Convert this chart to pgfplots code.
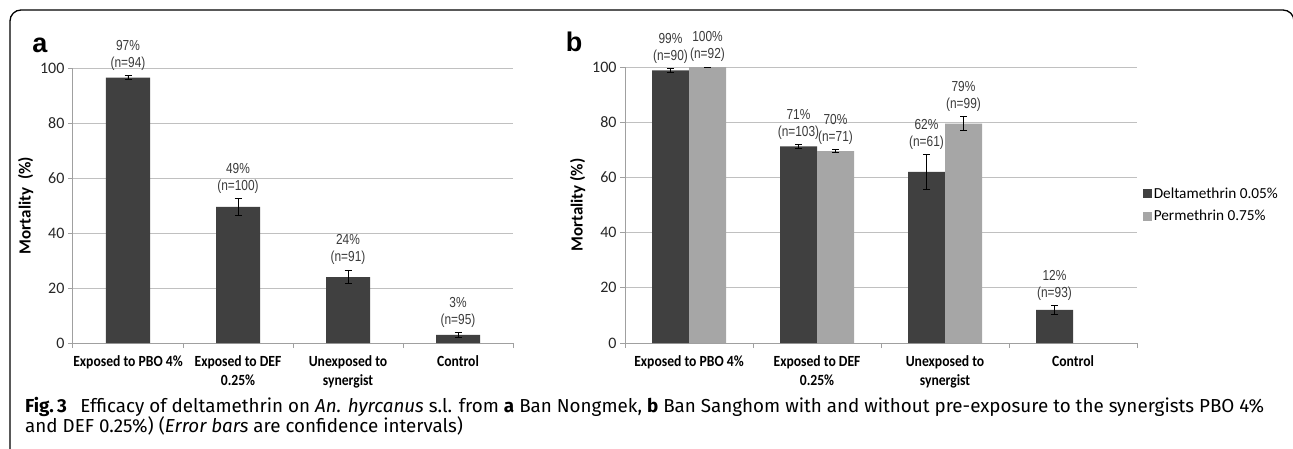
\documentclass[border=0pt]{standalone}
\usepackage{pgfplots}
\pgfplotsset{compat=1.18}
\usepackage{pgfplotstable}
\usepackage{fontspec}
\setmainfont{Carlito}
\newfontfamily\catfont[FakeStretch=0.88]{Carlito}
\newfontfamily\narrowfont[FakeStretch=0.82]{Liberation Sans}
\newfontfamily\letterfont{Liberation Sans}
\newfontfamily\capfont{Fira Sans}
\definecolor{darkbar}{HTML}{404040}
\definecolor{lightbar}{HTML}{A6A6A6}
\definecolor{gridc}{HTML}{C0C0C0}
\definecolor{axc}{HTML}{A0A0A0}
\definecolor{labc}{HTML}{3A3A3A}

\pgfplotstableread{
x y e p n
0 96.5 0.8 97 94
1 49.5 3.0 49 100
2 24.0 2.5 24 91
3 3.0 0.8 3 95
}\tabA
\pgfplotstableread{
x y e p n
0 98.8 0.6 99 90
1 71.2 0.7 71 103
2 62.0 6.2 62 61
3 12.0 1.5 12 93
}\tabBd
\pgfplotstableread{
x y e p n
0 100.0 0.2 100 92
1 69.5 0.6 70 71
2 79.5 2.5 79 99
}\tabBp

\pgfplotsset{
  mystyle/.style={
    scale only axis, anchor=south west,
    /pgf/number format/assume math mode=true,
    xmin=-0.5, xmax=3.5, ymin=0, ymax=100,
    ybar=0pt,
    axis x line*=bottom, axis y line*=left,
    axis line style={axc, line width=1pt},
    xtick={-0.5,0.5,1.5,2.5,3.5},
    x tick label as interval,
    xticklabels={Exposed to PBO 4\%, Exposed to DEF\\0.25\%, Unexposed to\\synergist, Control},
    xticklabel style={font=\catfont\fontsize{15.5}{19}\selectfont\bfseries, align=center, text=black, yshift=-4pt},
    ytick={0,20,...,100},
    yticklabel style={font=\fontsize{16}{18}\selectfont, text=black!85},
    ymajorgrids, grid style={gridc, line width=1pt},
    tick style={axc, line width=1pt}, major tick length=5pt, tick align=outside,
    ylabel style={font=\fontsize{17}{19}\selectfont\bfseries},
    nodes near coords={\pgfmathtruncatemacro\pa{\pct}\pa\%\\(n=\pgfmathtruncatemacro\pb{\nn}\pb)},
    nodes near coords style={font=\narrowfont\fontsize{14.5}{17}\selectfont, text=labc, align=center, anchor=south, inner sep=0pt, yshift={\err*2.75pt+5pt}},
    visualization depends on={\thisrow{e} \as \err},
    visualization depends on={\thisrow{p} \as \pct},
    visualization depends on={\thisrow{n} \as \nn},
    error bars/y dir=both, error bars/y explicit,
    error bars/error bar style={black, line width=0.8pt},
    error bars/error mark options={rotate=90, mark size=3.5pt, black, line width=0.8pt},
  }
}

\begin{document}
\begin{tikzpicture}[x=1pt,y=1pt]
\useasboundingbox (0,0) rectangle (1293,-448);
\begin{scope}
\clip (0,0) rectangle (1293,-448);
\draw[line width=1.3pt, rounded corners=11pt] (10,-480) -- (10,-10) -- (1294,-10) -- (1294,-480);
\end{scope}

\begin{axis}[mystyle, at={(73pt,-343pt)}, width=440pt, height=275pt, bar width=44pt,
  ylabel={Mortality\ \ (\%)}]
\addplot[fill=darkbar, draw=none] table[x=x, y=y, y error=e] {\tabA};
\end{axis}

\begin{axis}[mystyle, at={(625pt,-343pt)}, width=512pt, height=276pt, bar width=37pt,
  ylabel={Mortality (\%)},
  legend style={at={(1.005,0.5)}, anchor=west, draw=none, fill=none, font=\fontsize{15.3}{18}\selectfont, row sep=6pt},
  legend cell align=left]
\addplot[fill=darkbar, draw=none, legend image code/.code={\fill[darkbar] (0pt,-4.5pt) rectangle (9pt,4.5pt);}] table[x=x, y=y, y error=e] {\tabBd};
\addplot[fill=lightbar, draw=none, legend image code/.code={\fill[lightbar] (0pt,-4.5pt) rectangle (9pt,4.5pt);}] table[x=x, y=y, y error=e] {\tabBp};
\legend{Deltamethrin 0.05\%, Permethrin 0.75\%}
\end{axis}

\node[font=\letterfont\fontsize{27}{30}\selectfont\bfseries] at (40,-45) {a};
\node[font=\letterfont\fontsize{27}{30}\selectfont\bfseries] at (574,-42) {b};

\node[anchor=base west, inner sep=0pt] at (25,-412) {\capfont\fontsize{18.8}{20}\selectfont \textbf{Fig.\,3}\hspace{0.45em} Efficacy of deltamethrin on \textit{An. hyrcanus} s.l. from \textbf{a} Ban Nongmek, \textbf{b} Ban Sanghom with and without pre-exposure to the synergists PBO 4\%};
\node[anchor=base west, inner sep=0pt] at (25,-432) {\capfont\fontsize{18.8}{20}\selectfont and DEF 0.25\%) (\textit{Error bars} are confidence intervals)};
\end{tikzpicture}
\end{document}
